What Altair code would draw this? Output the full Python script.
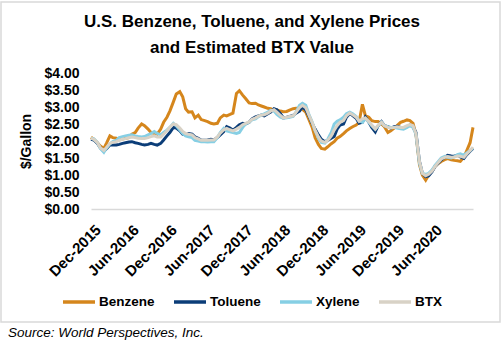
import altair as alt
import pandas as pd

# semi-monthly dates, Dec 2015 -> Dec 2020
dates = pd.date_range("2015-12-01", periods=122, freq="SMS")

benzene = [2.11, 2.05, 1.95, 1.85, 1.78, 1.95, 2.15, 2.10, 2.08, 2.03,
           2.06, 2.08, 2.10, 2.20, 2.25, 2.38, 2.50, 2.45, 2.35, 2.25,
           2.22, 2.20, 2.35, 2.55, 2.70, 2.88, 3.15, 3.38, 3.45, 3.30,
           2.95, 2.85, 2.86, 2.68, 2.76, 2.63, 2.60, 2.57, 2.52, 2.50,
           2.52, 2.68, 2.76, 2.74, 2.78, 2.82, 3.40, 3.48, 3.35, 3.25,
           3.12, 3.10, 3.11, 3.06, 3.03, 3.00, 2.96, 2.95, 2.90, 2.91,
           2.88, 2.86, 2.87, 2.91, 2.95, 2.96, 2.96, 2.93, 2.85, 2.65,
           2.40, 2.10, 1.90, 1.78, 1.76, 1.83, 1.92, 1.98, 2.08, 2.13,
           2.22, 2.30, 2.37, 2.42, 2.47, 2.55, 3.08, 2.75, 2.70, 2.60,
           2.57, 2.57, 2.50, 2.42, 2.25, 2.30, 2.38, 2.45, 2.55, 2.58,
           2.62, 2.60, 2.52, 2.20, 1.30, 1.00, 0.85, 1.00, 1.12, 1.25,
           1.34, 1.40, 1.45, 1.48, 1.45, 1.43, 1.42, 1.40, 1.52, 1.72,
           1.95, 2.40]

toluene = [2.05, 2.03, 1.93, 1.80, 1.70, 1.78, 1.88, 1.88, 1.88, 1.90,
           1.93, 1.95, 1.97, 1.98, 1.95, 1.93, 1.90, 1.88, 1.90, 1.93,
           1.90, 1.88, 1.93, 2.03, 2.15, 2.25, 2.40, 2.38, 2.30, 2.20,
           2.18, 2.22, 2.20, 2.12, 2.08, 2.02, 2.02, 2.03, 2.05, 2.03,
           2.10, 2.18, 2.28, 2.42, 2.38, 2.32, 2.40, 2.48, 2.52, 2.50,
           2.55, 2.65, 2.71, 2.74, 2.76, 2.74, 2.80, 2.85, 2.95, 2.92,
           2.80, 2.68, 2.70, 2.72, 2.75, 2.82, 2.88, 3.00, 2.92, 2.75,
           2.52, 2.35, 2.18, 2.05, 1.98, 2.02, 2.08, 2.13, 2.35, 2.47,
           2.50, 2.70, 2.81, 2.75, 2.67, 2.52, 2.55, 2.71, 2.55, 2.40,
           2.27, 2.45, 2.57, 2.45, 2.42, 2.38, 2.42, 2.43, 2.40, 2.37,
           2.42, 2.47, 2.42, 2.25, 1.40, 1.05, 0.95, 0.97, 1.10, 1.25,
           1.35, 1.45, 1.52, 1.58, 1.56, 1.55, 1.58, 1.53, 1.49, 1.60,
           1.70, 1.78]

xylene = [2.08, 2.06, 1.95, 1.78, 1.67, 1.80, 1.92, 1.98, 2.02, 2.10,
          2.13, 2.15, 2.17, 2.18, 2.15, 2.13, 2.12, 2.13, 2.18, 2.22,
          2.28, 2.22, 2.18, 2.25, 2.32, 2.40, 2.52, 2.45, 2.32, 2.22,
          2.15, 2.12, 2.10, 2.02, 2.00, 1.98, 1.98, 1.97, 1.98, 1.98,
          2.10, 2.25, 2.37, 2.30, 2.27, 2.25, 2.22, 2.25, 2.40, 2.50,
          2.55, 2.62, 2.65, 2.72, 2.76, 2.80, 2.85, 2.90, 2.88, 2.78,
          2.70, 2.67, 2.68, 2.70, 2.72, 2.85, 3.05, 3.11, 3.05, 2.80,
          2.55, 2.30, 2.08, 1.96, 1.94, 2.05, 2.25, 2.50, 2.58, 2.62,
          2.70, 2.80, 2.85, 2.80, 2.72, 2.60, 2.55, 2.66, 2.55, 2.45,
          2.35, 2.45, 2.55, 2.45, 2.42, 2.40, 2.40, 2.38, 2.36, 2.35,
          2.40, 2.45, 2.40, 2.20, 1.35, 1.05, 1.02, 1.05, 1.15, 1.28,
          1.40, 1.50, 1.55, 1.52, 1.50, 1.53, 1.60, 1.62, 1.58, 1.65,
          1.72, 1.80]

btx = [2.08, 2.05, 1.95, 1.80, 1.72, 1.82, 1.93, 1.96, 1.98, 2.02,
       2.05, 2.07, 2.10, 2.12, 2.10, 2.08, 2.07, 2.07, 2.10, 2.13,
       2.15, 2.12, 2.12, 2.20, 2.30, 2.40, 2.50, 2.48, 2.38, 2.28,
       2.22, 2.20, 2.18, 2.10, 2.06, 2.02, 2.02, 2.02, 2.03, 2.03,
       2.12, 2.23, 2.33, 2.37, 2.33, 2.30, 2.35, 2.40, 2.48, 2.52,
       2.56, 2.64, 2.68, 2.73, 2.76, 2.77, 2.82, 2.88, 2.92, 2.85,
       2.75, 2.68, 2.70, 2.72, 2.74, 2.84, 2.98, 3.05, 2.98, 2.78,
       2.55, 2.32, 2.12, 2.00, 1.96, 2.02, 2.15, 2.32, 2.45, 2.55,
       2.60, 2.74, 2.82, 2.77, 2.70, 2.58, 2.65, 2.68, 2.57, 2.47,
       2.35, 2.47, 2.55, 2.45, 2.40, 2.38, 2.40, 2.42, 2.40, 2.40,
       2.45, 2.48, 2.45, 2.22, 1.40, 1.05, 0.98, 1.02, 1.12, 1.25,
       1.37, 1.47, 1.52, 1.54, 1.52, 1.52, 1.56, 1.55, 1.52, 1.62,
       1.72, 1.82]

series_names = ["Benzene", "Toluene", "Xylene", "BTX"]
series_colors = ["#D5861C", "#0B3D78", "#86CFE4", "#D8D2C6"]
tick_dates = ["2015-12-01", "2016-06-01", "2016-12-01", "2017-06-01", "2017-12-01",
              "2018-06-01", "2018-12-01", "2019-06-01", "2019-12-01", "2020-06-01"]
y_ticks = [0, 0.5, 1, 1.5, 2, 2.5, 3, 3.5, 4]

title_lines = ["U.S. Benzene, Toluene, and Xylene Prices", "and Estimated BTX Value"]
source_text = "Source: World Perspectives, Inc."

rows = []
for name, vals in zip(series_names, [benzene, toluene, xylene, btx]):
    for d, v in zip(dates, vals):
        rows.append({"date": d, "value": v, "series": name, "order": series_names.index(name)})
df = pd.DataFrame(rows)
one = pd.DataFrame({"k": [0]})

FONT = "Liberation Sans"

x_scale = alt.Scale(domain=[alt.DateTime(year=2015, month=12, date=1),
                            alt.DateTime(year=2020, month=12, date=15)])

lines = alt.Chart(df).mark_line(strokeWidth=3).encode(
    x=alt.X("date:T", scale=x_scale,
            axis=alt.Axis(values=[alt.DateTime(year=int(t[:4]), month=int(t[5:7]), date=1) for t in tick_dates],
                          format="%b-%Y", title=None, labelAngle=-45, labelAlign="right",
                          labelBaseline="top", labelOffset=2, labelPadding=13,
                          labelOverlap=False, labelBound=False,
                          ticks=False, grid=False, domainColor="#d9d9d9", domainWidth=1.5,
                          labelFont=FONT, labelFontSize=15, labelFontWeight="bold",
                          labelColor="black")),
    y=alt.Y("value:Q", scale=alt.Scale(domain=[0, 4], nice=False),
            axis=alt.Axis(values=y_ticks, format="$.2f", title="$/Gallon", grid=False,
                          domain=False, ticks=False, labelPadding=12, labelOverlap=False,
                          labelFont=FONT, labelFontSize=14, labelFontWeight="bold",
                          labelColor="black", titleFont=FONT, titleFontSize=14,
                          titleFontWeight="bold", titleColor="black", titlePadding=10)),
    color=alt.Color("series:N", sort=series_names,
                    scale=alt.Scale(domain=series_names, range=series_colors),
                    legend=alt.Legend(title=None, orient="none", direction="horizontal",
                                      legendX=-30, legendY=211,
                                      symbolType="stroke", symbolSize=1024,
                                      symbolStrokeWidth=3.5, labelOffset=2,
                                      columnPadding=12, labelFont=FONT, labelFontSize=13.5,
                                      labelFontWeight="bold", labelColor="black")),
    order=alt.Order("order:Q"),
)

border = alt.Chart(one).mark_rect(fill=None, stroke="#d9d9d9", strokeWidth=1.5).encode(
    x=alt.value(-90), x2=alt.value(409), y=alt.value(-71), y2=alt.value(249)
)

title = alt.Chart(one).mark_text(text=title_lines, font=FONT, fontSize=17, fontWeight="bold",
                                 align="center", baseline="alphabetic", lineHeight=26,
                                 color="black").encode(
    x=alt.value(161), y=alt.value(-46)
)

source = alt.Chart(one).mark_text(text=source_text, font=FONT, fontSize=13.5, fontStyle="italic",
                                  align="left", baseline="middle", color="black").encode(
    x=alt.value(-83), y=alt.value(260)
)

chart = alt.layer(border, title, lines, source).properties(
    width=382, height=136,
    padding={"left": 91, "top": 73, "right": 31, "bottom": 131},
    autosize=alt.AutoSizeParams(type="none"),
).configure_view(stroke=None)

chart.save("out.html", embed_options={"renderer": "svg", "actions": False})
